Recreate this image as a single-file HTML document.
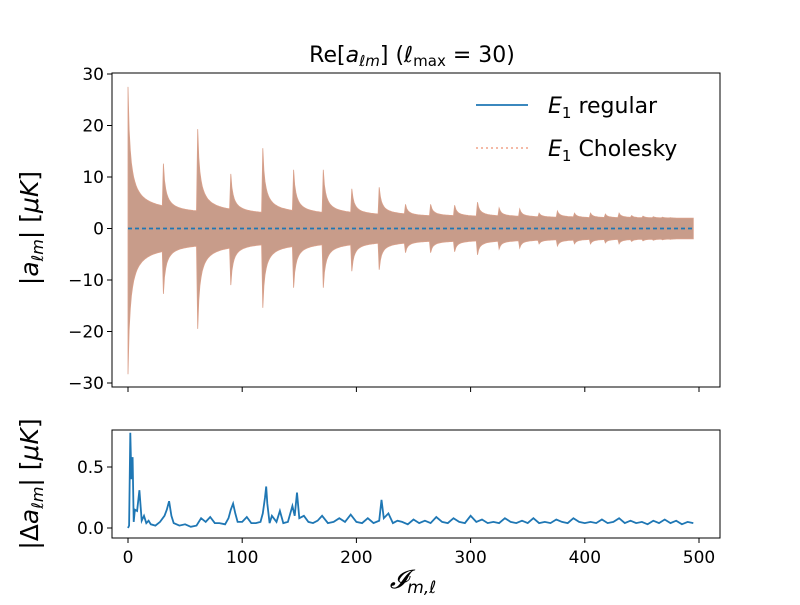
<!DOCTYPE html>
<html><head><meta charset="utf-8"><style>
body{margin:0;background:#fff;}
svg text{font-family:"DejaVu Sans","Liberation Sans",sans-serif;fill:#000;}
.m{font-family:"DejaVu Sans","Liberation Sans",sans-serif;font-style:italic;}
</style></head><body>
<svg id="c" width="800" height="600" xmlns="http://www.w3.org/2000/svg"></svg>
<script>
// m-block peak amplitudes (upper / lower) and tail amplitudes
const blockPeakUp = [27.5,12.6,19.3,10.6,15.6,11.4,11.4,7.7,8,4.7,4.7,4.5,5.1,4,3.8,3,3.4,3,3,2.8,3,2.5,2.4,2.3,2.2,2.1,2,2,2,2,2];
const blockPeakDn = [28.3,12.7,19.5,11,15.4,11.5,11.5,8.3,8,4.7,4.7,4.5,5.1,4,3.8,3,3.4,3,3,2.8,3,2.5,2.4,2.3,2.2,2.1,2,2,2,2,2];
const blockTail = [2.9,2.8,2.7,2.6,2.6,2.5,2.5,2.4,2.4,2.3,2.3,2.2,2.2,2.2,2.1,2.1,2.1,2,2,2,2,2,2,2,2,2,2,2,2,2,2];
const xTicks = [0,100,200,300,400,500];
const yTicksTop = [-30,-20,-10,0,10,20,30];
const yTicksBot = [0.0,0.5];
const resIdx = [0,1,2,3,4,5,6,8,10,12,14,16,18,20,24,28,32,34,36,38,40,45,50,55,60,64,68,72,76,80,85,88,90,92,94,96,100,104,108,112,116,118,120,121,122,124,126,130,133,136,140,144,146,148,150,154,158,162,166,170,175,180,185,190,195,200,205,210,215,220,222,224,228,232,236,240,245,250,255,260,265,270,275,280,285,290,295,300,305,310,315,320,325,330,335,340,345,350,355,360,365,370,375,380,385,390,395,400,405,410,415,420,425,430,435,440,445,450,455,460,465,470,475,480,485,490,495];
const resVal = [0.0,0.02,0.78,0.4,0.58,0.05,0.15,0.14,0.31,0.06,0.1,0.04,0.06,0.03,0.02,0.05,0.1,0.15,0.22,0.1,0.04,0.02,0.03,0.01,0.02,0.08,0.05,0.09,0.04,0.04,0.03,0.08,0.15,0.2,0.12,0.05,0.05,0.09,0.04,0.04,0.05,0.12,0.25,0.34,0.2,0.04,0.1,0.05,0.14,0.04,0.05,0.18,0.1,0.29,0.08,0.1,0.05,0.04,0.06,0.1,0.04,0.05,0.08,0.05,0.11,0.05,0.04,0.08,0.04,0.06,0.23,0.08,0.12,0.04,0.06,0.05,0.03,0.07,0.04,0.06,0.04,0.09,0.05,0.04,0.08,0.05,0.04,0.1,0.05,0.07,0.04,0.05,0.04,0.08,0.05,0.04,0.06,0.04,0.08,0.04,0.05,0.04,0.07,0.05,0.04,0.08,0.05,0.04,0.05,0.04,0.07,0.04,0.05,0.08,0.04,0.06,0.04,0.05,0.03,0.06,0.04,0.07,0.04,0.06,0.03,0.05,0.04];

const NS="http://www.w3.org/2000/svg", svg=document.getElementById('c');
function mk(t,a,txt){const e=document.createElementNS(NS,t);for(const k in a)e.setAttribute(k,a[k]);if(txt!=null)e.textContent=txt;svg.appendChild(e);return e;}
const X0=112,X1=720;
const xs=v=>128+v*(699-128)/500;
const yt=v=>228.5-v*(383-74)/60;
const yb=v=>528-v*(528-467)/0.5;

let up=[],dn=[],idx=0;
for(let m=0;m<blockPeakUp.length;m++){
  const n=31-m;
  for(let k=0;k<n;k++){
    const f=1/(1+k/2);
    up.push([xs(idx),yt(blockTail[m]+(blockPeakUp[m]-blockTail[m])*f)]);
    dn.push([xs(idx),yt(-(blockTail[m]+(blockPeakDn[m]-blockTail[m])*f))]);
    idx++;
  }
}
const pts=up.concat(dn.reverse()).map(p=>p[0].toFixed(1)+','+p[1].toFixed(1)).join(' ');
let e=mk('polygon',{points:pts,fill:'#c89c8a',stroke:'#d9a08a','stroke-width':0.8});


e=mk('line',{x1:xs(0),x2:xs(495),y1:yt(0),y2:yt(0),stroke:'#1f77b4','stroke-width':1.8,'stroke-dasharray':'4,3'});



e=mk('rect',{x:X0,y:73,width:X1-X0,height:314,fill:'none',stroke:'#000','stroke-width':1});


e=mk('rect',{x:X0,y:430,width:X1-X0,height:108,fill:'none',stroke:'#000','stroke-width':1});



xTicks.forEach(t=>{
  mk('line',{x1:xs(t),x2:xs(t),y1:387,y2:392,stroke:'#000'});
  mk('line',{x1:xs(t),x2:xs(t),y1:538,y2:543,stroke:'#000'});
  e=mk('text',{x:xs(t),y:563,'font-size':17,'text-anchor':'middle'},t);
  
  
});
yTicksTop.forEach(t=>{
  mk('line',{x1:X0-5,x2:X0,y1:yt(t),y2:yt(t),stroke:'#000'});
  e=mk('text',{x:X0-8,y:yt(t)+6,'font-size':17,'text-anchor':'end'},t<0?'\u2212'+(-t):t);
  
  
});
yTicksBot.forEach(t=>{
  mk('line',{x1:X0-5,x2:X0,y1:yb(t),y2:yb(t),stroke:'#000'});
  e=mk('text',{x:X0-8,y:yb(t)+6,'font-size':17,'text-anchor':'end'},t.toFixed(1));
  
  
});

e=mk('polyline',{points:resIdx.map((v,i)=>xs(v).toFixed(1)+','+yb(resVal[i]).toFixed(1)).join(' '),fill:'none',stroke:'#1f77b4','stroke-width':1.8});



mk('line',{x1:476,x2:528,y1:105,y2:105,stroke:'#1f77b4','stroke-width':1.8});
mk('line',{x1:476,x2:528,y1:148,y2:148,stroke:'#f2b09a','stroke-width':1.8,'stroke-dasharray':'2,3'});
</script>
<svg width="800" height="600" style="position:absolute;left:0;top:0" xmlns="http://www.w3.org/2000/svg">
<text x="412" y="62" font-size="22" text-anchor="middle">Re[<tspan class="m">a</tspan><tspan class="m" font-size="15" dy="4">ℓm</tspan><tspan dy="-4">] (</tspan><tspan class="m">ℓ</tspan><tspan font-size="15" dy="4">max</tspan><tspan dy="-4"> = 30)</tspan></text>
<text x="548" y="113" font-size="22"><tspan class="m">E</tspan><tspan font-size="15" dy="5">1</tspan><tspan dy="-5"> regular</tspan></text>
<text x="548" y="156" font-size="22"><tspan class="m">E</tspan><tspan font-size="15" dy="5">1</tspan><tspan dy="-5"> Cholesky</tspan></text>
<text transform="translate(38,228) rotate(-90)" font-size="25" text-anchor="middle">|<tspan class="m">a</tspan><tspan class="m" font-size="16" dy="5">ℓm</tspan><tspan dy="-5">| [</tspan><tspan class="m">μK</tspan>]</text>
<text transform="translate(38,484) rotate(-90)" font-size="25" text-anchor="middle">|Δ<tspan class="m">a</tspan><tspan class="m" font-size="16" dy="5">ℓm</tspan><tspan dy="-5">| [</tspan><tspan class="m">μK</tspan>]</text>
<text x="413" y="588" font-size="26" text-anchor="middle"><tspan class="m">𝓘</tspan><tspan class="m" font-size="17" dy="5">m,ℓ</tspan></text>
</svg>
</body></html>
